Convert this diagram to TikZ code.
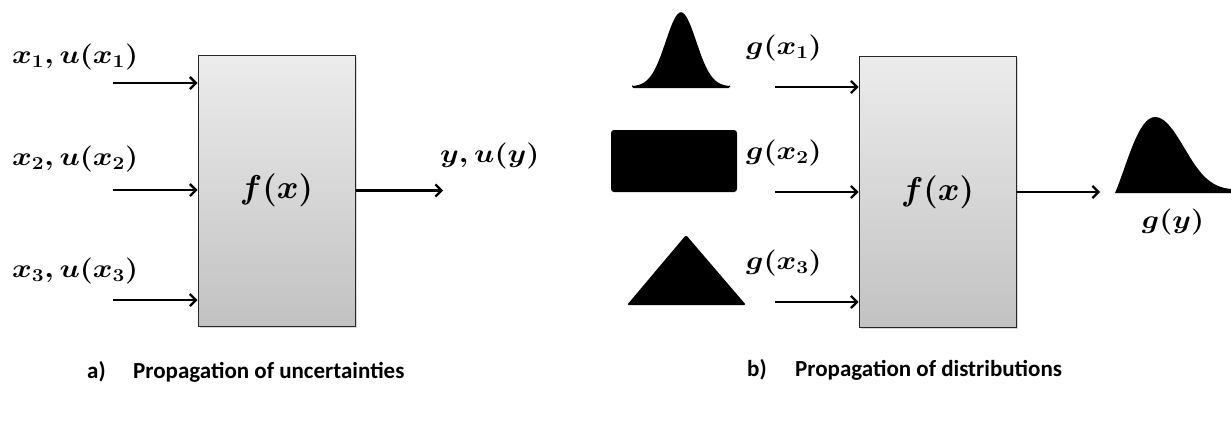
\RequirePackage{fix-cm}
\documentclass[tikz,border=0pt]{standalone}
\usepackage{amsmath}
\usepackage{graphicx}
\usepackage{fontspec}
\newfontfamily\capfont{Carlito}
\usetikzlibrary{arrows.meta,shadows}

\newcommand{\lab}[1]{\scalebox{1.15}[1]{$#1$}}

\tikzset{
  fbox/.style={draw=black!85, line width=1pt, minimum width=157pt, minimum height=271pt,
    top color=gray!15, bottom color=gray!48,
    drop shadow={shadow xshift=1.5pt, shadow yshift=-1.5pt, opacity=0.3},
    font=\fontsize{33}{38}\selectfont\mathversion{bold}},
  arr/.style={-{Straight Barb[length=6pt,width=12pt]}, line width=2.3pt},
  lbl/.style={font=\fontsize{26}{30}\selectfont\mathversion{bold}, inner sep=0pt},
  captext/.style={font=\fontsize{23}{26}\selectfont\capfont\bfseries, inner sep=0pt, anchor=base west},
}

\begin{document}
\begin{tikzpicture}[x=1pt,y=-1pt]
  \useasboundingbox (0,0) rectangle (1231,423);
  % a) propagation of uncertainties
  \begin{scope}
    \node[fbox] (fa) at (276.5,190.5) {$f(x)$};
    \coordinate (ia1) at (113,83); \coordinate (ia2) at (113,190); \coordinate (ia3) at (113,300);
    \draw[arr] (ia1) -- (ia1 -| fa.west);
    \draw[arr] (ia2) -- (ia2 -| fa.west);
    \draw[arr] (ia3) -- (ia3 -| fa.west);
    \node[lbl,anchor=west] (la1) at (12,57) {\lab{x_1, u(x_1)}};
    \node[lbl,anchor=west] (la2) at (12,159) {\lab{x_2, u(x_2)}};
    \node[lbl,anchor=west] (la3) at (12,271) {\lab{x_3, u(x_3)}};
    \coordinate (oa) at (443,190.5);
    \draw[arr] (fa.east) -- (oa);
    \node[lbl,anchor=west] (ly) at (440,156) {\lab{y, u(y)}};
    \node[captext] (capa) at (87,378) {a)};
    \node[captext] (tita) at (133,378) {Propagation of uncertainties};
  \end{scope}
  % b) propagation of distributions
  \begin{scope}
    \node[fbox] (fb) at (937.5,192) {$f(x)$};
    \coordinate (ib1) at (775,87); \coordinate (ib2) at (775,192); \coordinate (ib3) at (775,302);
    \draw[arr] (ib1) -- (ib1 -| fb.west);
    \draw[arr] (ib2) -- (ib2 -| fb.west);
    \draw[arr] (ib3) -- (ib3 -| fb.west);
    \node[lbl,anchor=west] (lb1) at (746,48) {\lab{g(x_1)}};
    \node[lbl,anchor=west] (lb2) at (746,153) {\lab{g(x_2)}};
    \node[lbl,anchor=west] (lb3) at (746,263) {\lab{g(x_3)}};
    \coordinate (ob) at (1100,192);
    \draw[arr] (fb.east) -- (ob);
    \node[lbl] (lgy) at (1173,222) {\lab{g(y)}};
    % input and output distributions
    \fill[rounded corners=1.5pt] (632,88) -- plot[domain=632:730,samples=60,smooth] (\x,{86.5-74*exp(-((\x-681)^2)/470)}) -- (730,88) -- cycle;
    \fill[rounded corners=3pt] (611,130) rectangle (737,192);
    \fill[rounded corners=2pt] (627,305) -- (686,235) -- (746,305) -- cycle;
    \fill (1115,193) .. controls (1127,165) and (1138,117) .. (1155,117)
      .. controls (1172,117) and (1185,155) .. (1202,174)
      .. controls (1213,186) and (1222,188) .. (1231,189) -- (1231,193) -- cycle;
    \node[captext] (capb) at (747,376) {b)};
    \node[captext] (titb) at (795,376) {Propagation of distributions};
  \end{scope}
\end{tikzpicture}
\end{document}
